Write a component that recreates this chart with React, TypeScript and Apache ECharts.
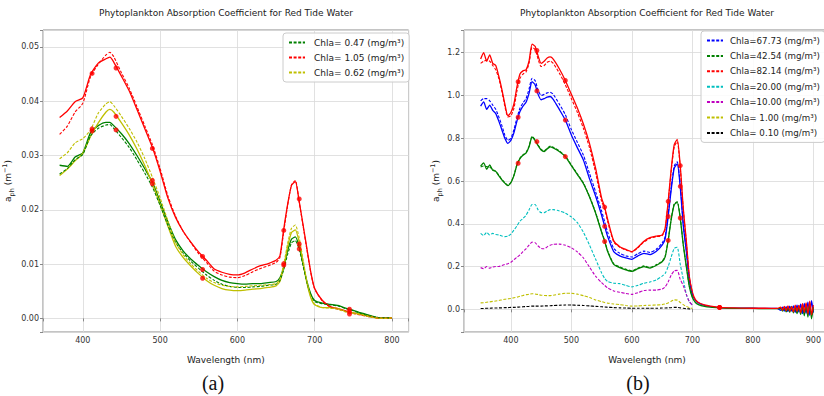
import React, { useEffect, useRef } from 'react';
import * as echarts from 'echarts';

const FONT = 'DejaVu Sans';

// ---------- (a) left panel ----------
const WL_A = [
  370, 380, 390, 400, 410, 420, 430, 435, 440, 450,
  460, 470, 480, 490, 500, 510, 520, 530, 540, 550,
  560, 570, 580, 590, 600, 610, 620, 630, 640, 650,
  655, 660, 665, 670, 675, 680, 685, 690, 695, 700,
  710, 720, 730, 740, 750, 760, 770, 780, 790, 800,
];
const RED105 = [
  0.0370, 0.0382, 0.0399, 0.0406, 0.0449, 0.0470, 0.0478, 0.0481, 0.0472, 0.0446,
  0.0419, 0.0385, 0.0350, 0.0315, 0.0271, 0.0222, 0.0186, 0.0160, 0.0140, 0.0122,
  0.0107, 0.0091, 0.0085, 0.0081, 0.0080, 0.0084, 0.0091, 0.0097, 0.0101, 0.0107,
  0.0115, 0.0165, 0.0210, 0.0245, 0.0252, 0.0215, 0.0172, 0.0128, 0.0085, 0.0055,
  0.0033, 0.0022, 0.0018, 0.0014, 0.0010, 0.0007, 0.0004, 0.0001, 0.0000, 0.0001,
];
const RED105_D = [
  0.0339, 0.0354, 0.0380, 0.0396, 0.0445, 0.0468, 0.0485, 0.0490, 0.0482, 0.0452,
  0.0424, 0.0390, 0.0355, 0.0320, 0.0276, 0.0226, 0.0188, 0.0160, 0.0139, 0.0119,
  0.0103, 0.0087, 0.0080, 0.0076, 0.0075, 0.0079, 0.0086, 0.0092, 0.0097, 0.0103,
  0.0112, 0.0160, 0.0208, 0.0246, 0.0254, 0.0214, 0.0170, 0.0126, 0.0084, 0.0054,
  0.0032, 0.0021, 0.0017, 0.0013, 0.0009, 0.0006, 0.0003, 0.0001, 0.0000, 0.0001,
];
const GREEN047 = [
  0.0282, 0.0280, 0.0297, 0.0305, 0.0342, 0.0355, 0.0361, 0.0361, 0.0355, 0.0340,
  0.0322, 0.0300, 0.0276, 0.0251, 0.0215, 0.0178, 0.0145, 0.0124, 0.0109, 0.0097,
  0.0086, 0.0077, 0.0070, 0.0066, 0.0064, 0.0063, 0.0064, 0.0064, 0.0066, 0.0068,
  0.0075, 0.0095, 0.0125, 0.0146, 0.0150, 0.0132, 0.0100, 0.0068, 0.0045, 0.0033,
  0.0028, 0.0026, 0.0024, 0.0019, 0.0015, 0.0010, 0.0006, 0.0002, 0.0001, 0.0001,
];
const GREEN047_D = [
  0.0266, 0.0276, 0.0292, 0.0302, 0.0336, 0.0350, 0.0356, 0.0357, 0.0350, 0.0333,
  0.0315, 0.0292, 0.0268, 0.0242, 0.0208, 0.0172, 0.0140, 0.0120, 0.0105, 0.0092,
  0.0080, 0.0070, 0.0063, 0.0059, 0.0057, 0.0057, 0.0058, 0.0059, 0.0061, 0.0063,
  0.0070, 0.0090, 0.0118, 0.0139, 0.0143, 0.0127, 0.0097, 0.0065, 0.0043, 0.0031,
  0.0027, 0.0025, 0.0023, 0.0018, 0.0014, 0.0009, 0.0005, 0.0002, 0.0001, 0.0001,
];
const YELLOW062 = [
  0.0263, 0.0275, 0.0290, 0.0304, 0.0335, 0.0360, 0.0380, 0.0385, 0.0380, 0.0360,
  0.0338, 0.0312, 0.0282, 0.0248, 0.0210, 0.0170, 0.0133, 0.0112, 0.0096, 0.0082,
  0.0070, 0.0061, 0.0055, 0.0052, 0.0051, 0.0052, 0.0054, 0.0055, 0.0057, 0.0060,
  0.0068, 0.0095, 0.0132, 0.0158, 0.0163, 0.0140, 0.0102, 0.0065, 0.0038, 0.0025,
  0.0020, 0.0020, 0.0018, 0.0013, 0.0010, 0.0008, 0.0004, 0.0001, 0.0000, 0.0001,
];
const YELLOW062_D = [
  0.0294, 0.0305, 0.0323, 0.0331, 0.0347, 0.0378, 0.0395, 0.0399, 0.0392, 0.0372,
  0.0350, 0.0325, 0.0295, 0.0260, 0.0222, 0.0180, 0.0140, 0.0117, 0.0100, 0.0086,
  0.0074, 0.0066, 0.0061, 0.0059, 0.0058, 0.0059, 0.0060, 0.0061, 0.0062, 0.0064,
  0.0072, 0.0100, 0.0138, 0.0166, 0.0172, 0.0148, 0.0108, 0.0068, 0.0040, 0.0026,
  0.0020, 0.0019, 0.0017, 0.0012, 0.0009, 0.0007, 0.0003, 0.0001, 0.0000, 0.0001,
];
const BANDS = [412, 443, 490, 555, 660, 680, 745];
const MK_RED105 = [0.0451, 0.0461, 0.0313, 0.0114, 0.0162, 0.0220, 0.0012];
const MK_GREEN047 = [0.0349, 0.0347, 0.0254, 0.0090, 0.0101, 0.0137, 0.0017];
const MK_YELLOW062 = [0.0345, 0.0372, 0.0248, 0.0074, 0.0098, 0.0128, 0.0008];

// ---------- (b) right panel ----------
const WL_B = [
  350, 355, 360, 365, 370, 375, 380, 385, 390, 395,
  400, 405, 410, 415, 420, 425, 430, 435, 440, 445,
  450, 455, 460, 465, 470, 480, 490, 500, 510, 520,
  530, 540, 550, 555, 560, 570, 580, 590, 600, 610,
  620, 630, 640, 650, 655, 660, 665, 670, 675, 680,
  685, 690, 695, 700,
];
const WL_B_TAIL = [
  705, 710, 720, 730, 745, 760, 780, 800, 820, 840,
  846, 849, 852, 855, 858, 861, 864, 867, 870, 873,
  876, 879, 882, 885, 888, 891, 894, 897, 900,
];
const RED82 = [
  1.17, 1.20, 1.16, 1.19, 1.15, 1.14, 1.09, 1.03, 0.96, 0.905,
  0.92, 0.96, 1.04, 1.10, 1.115, 1.12, 1.16, 1.24, 1.23, 1.185,
  1.15, 1.16, 1.175, 1.18, 1.17, 1.125, 1.07, 1.005, 0.94, 0.865,
  0.775, 0.66, 0.52, 0.478, 0.42, 0.32, 0.293, 0.28, 0.27, 0.29,
  0.318, 0.335, 0.342, 0.348, 0.38, 0.505, 0.655, 0.77, 0.795, 0.67,
  0.47, 0.32, 0.153, 0.08,
];
const RED82_TAIL = [
  0.045, 0.032, 0.021, 0.015, 0.009, 0.007, 0.006, 0.005, 0.005, 0.004,
  0.010, -0.004, 0.014, -0.006, 0.016, -0.008, 0.012, -0.012, 0.020, -0.010,
  0.018, -0.016, 0.026, -0.014, 0.030, -0.022, 0.038, -0.026, 0.020,
];
const RED82_D = [
  1.15, 1.16, 1.165, 1.16, 1.14, 1.12, 1.08, 1.02, 0.95, 0.90,
  0.905, 0.94, 1.02, 1.08, 1.10, 1.11, 1.15, 1.225, 1.215, 1.17,
  1.135, 1.14, 1.155, 1.16, 1.15, 1.105, 1.05, 0.985, 0.92, 0.845,
  0.755, 0.64, 0.505, 0.47, 0.41, 0.315, 0.29, 0.277, 0.268, 0.288,
  0.315, 0.332, 0.34, 0.345, 0.375, 0.50, 0.645, 0.76, 0.785, 0.66,
  0.465, 0.315, 0.15, 0.078,
];
const BLUE67 = [
  0.95, 0.97, 0.935, 0.955, 0.93, 0.915, 0.88, 0.84, 0.80, 0.776,
  0.79, 0.825, 0.88, 0.925, 0.95, 0.968, 1.01, 1.065, 1.05, 1.005,
  0.98, 0.985, 0.992, 0.995, 0.982, 0.935, 0.885, 0.815, 0.755, 0.697,
  0.61, 0.53, 0.44, 0.388, 0.34, 0.27, 0.25, 0.24, 0.234, 0.25,
  0.262, 0.256, 0.27, 0.30, 0.33, 0.434, 0.56, 0.66, 0.68, 0.57,
  0.39, 0.27, 0.137, 0.07,
];
const BLUE67_TAIL = [
  0.042, 0.030, 0.019, 0.013, 0.008, 0.006, 0.005, 0.005, 0.004, 0.004,
  -0.005, 0.010, -0.008, 0.012, -0.010, 0.015, -0.008, 0.016, -0.014, 0.020,
  -0.012, 0.024, -0.020, 0.028, -0.018, 0.034, -0.028, 0.040, -0.015,
];
const BLUE67_D = [
  0.975, 0.985, 0.985, 0.975, 0.955, 0.935, 0.90, 0.86, 0.815, 0.79,
  0.80, 0.84, 0.895, 0.94, 0.965, 0.985, 1.03, 1.08, 1.07, 1.025,
  1.0, 1.005, 1.012, 1.015, 1.005, 0.96, 0.91, 0.84, 0.78, 0.72,
  0.635, 0.55, 0.46, 0.41, 0.36, 0.285, 0.262, 0.25, 0.245, 0.26,
  0.272, 0.266, 0.28, 0.31, 0.34, 0.445, 0.57, 0.67, 0.69, 0.58,
  0.40, 0.28, 0.14, 0.07,
];
const GREEN42 = [
  0.67, 0.685, 0.655, 0.675, 0.65, 0.645, 0.625, 0.605, 0.59, 0.578,
  0.592, 0.625, 0.675, 0.705, 0.72, 0.73, 0.76, 0.805, 0.79, 0.765,
  0.745, 0.738, 0.75, 0.76, 0.755, 0.738, 0.714, 0.672, 0.63, 0.587,
  0.525, 0.45, 0.36, 0.318, 0.27, 0.21, 0.195, 0.185, 0.177, 0.19,
  0.20, 0.193, 0.205, 0.222, 0.245, 0.322, 0.42, 0.49, 0.50, 0.425,
  0.30, 0.20, 0.106, 0.055,
];
const GREEN42_TAIL = [
  0.032, 0.022, 0.014, 0.010, 0.007, 0.005, 0.004, 0.004, 0.003, 0.003,
  0.004, -0.008, 0.010, -0.012, 0.008, -0.014, 0.014, -0.016, 0.012, -0.020,
  0.016, -0.024, 0.020, -0.030, 0.024, -0.036, 0.028, -0.044, 0.010,
];
const GREEN42_D = [
  0.665, 0.67, 0.668, 0.664, 0.655, 0.645, 0.628, 0.608, 0.592, 0.58,
  0.594, 0.627, 0.677, 0.707, 0.722, 0.733, 0.762, 0.808, 0.793, 0.768,
  0.748, 0.741, 0.753, 0.763, 0.758, 0.741, 0.717, 0.675, 0.633, 0.59,
  0.528, 0.453, 0.363, 0.321, 0.273, 0.213, 0.198, 0.188, 0.18, 0.193,
  0.203, 0.196, 0.208, 0.225, 0.248, 0.325, 0.423, 0.493, 0.503, 0.428,
  0.303, 0.203, 0.109, 0.058,
];
const CYAN20 = [
  0.355, 0.345, 0.36, 0.348, 0.355, 0.35, 0.348, 0.343, 0.34, 0.342,
  0.352, 0.37, 0.39, 0.412, 0.425, 0.44, 0.465, 0.49, 0.49, 0.465,
  0.452, 0.452, 0.46, 0.466, 0.466, 0.46, 0.45, 0.432, 0.405, 0.36,
  0.30, 0.235, 0.17, 0.145, 0.13, 0.122, 0.12, 0.112, 0.105, 0.112,
  0.122, 0.128, 0.137, 0.155, 0.168, 0.2, 0.245, 0.285, 0.29, 0.21,
  0.14, 0.07, 0.035, 0.02,
];
const MAGENTA10 = [
  0.195, 0.19, 0.2, 0.192, 0.198, 0.2, 0.2, 0.205, 0.21, 0.213,
  0.22, 0.232, 0.243, 0.255, 0.27, 0.283, 0.30, 0.314, 0.312, 0.296,
  0.285, 0.283, 0.292, 0.30, 0.304, 0.305, 0.30, 0.288, 0.268, 0.24,
  0.197, 0.155, 0.125, 0.112, 0.10, 0.086, 0.08, 0.074, 0.07, 0.078,
  0.088, 0.09, 0.09, 0.095, 0.105, 0.128, 0.16, 0.18, 0.182, 0.14,
  0.11, 0.07, 0.036, 0.02,
];
const YELLOW1 = [
  0.03, 0.031, 0.033, 0.035, 0.037, 0.039, 0.041, 0.044, 0.047, 0.049,
  0.051, 0.054, 0.057, 0.061, 0.065, 0.068, 0.071, 0.073, 0.072, 0.069,
  0.066, 0.065, 0.064, 0.064, 0.066, 0.071, 0.075, 0.075, 0.071, 0.064,
  0.055, 0.044, 0.036, 0.032, 0.029, 0.025, 0.022, 0.018, 0.015, 0.016,
  0.018, 0.019, 0.02, 0.022, 0.025, 0.03, 0.038, 0.044, 0.043, 0.032,
  0.022, 0.014, 0.008, 0.005,
];
const BLACK01 = [
  0.004, 0.004, 0.005, 0.005, 0.006, 0.006, 0.007, 0.007, 0.008, 0.008,
  0.009, 0.009, 0.010, 0.011, 0.012, 0.013, 0.014, 0.015, 0.015, 0.015,
  0.015, 0.016, 0.016, 0.017, 0.018, 0.019, 0.02, 0.02, 0.019, 0.018,
  0.016, 0.014, 0.012, 0.011, 0.01, 0.008, 0.007, 0.006, 0.005, 0.005,
  0.005, 0.005, 0.005, 0.006, 0.006, 0.007, 0.008, 0.009, 0.009, 0.007,
  0.005, 0.003, 0.002, 0.001,
];
const MK_RED82 = [1.064, 1.21, 1.07, 0.478, 0.505, 0.672, 0.009];
const MK_BLUE67 = [0.898, 1.021, 0.885, 0.388, 0.434, 0.575, 0.009];
const MK_GREEN42 = [0.683, 0.784, 0.714, 0.317, 0.322, 0.427, 0.009];

const TITLE = 'Phytoplankton Absorption Coefficient for Red Tide Water';
const LEG_A = ['Chla= 0.47 (mg/m³)', 'Chla= 1.05 (mg/m³)', 'Chla= 0.62 (mg/m³)'];
const LEG_B = [
  'Chla=67.73 (mg/m³)', 'Chla=42.54 (mg/m³)', 'Chla=82.14 (mg/m³)',
  'Chla=20.00 (mg/m³)', 'Chla=10.00 (mg/m³)', 'Chla= 1.00 (mg/m³)', 'Chla= 0.10 (mg/m³)',
];

const C = { g: '#008000', r: '#ff0000', y: '#bfbf00', b: '#0000ff', c: '#00bfbf', m: '#bf00bf', k: '#000000' };

function lineSeries(name: string, gi: number, xs: number[], ys: number[], color: string, dashed: boolean) {
  return {
    type: 'line', name, xAxisIndex: gi, yAxisIndex: gi,
    data: ys.map((v, i) => [xs[i], v]),
    symbol: 'none', smooth: 0.2, silent: true,
    lineStyle: { color, width: dashed ? 1.1 : 1.3, type: dashed ? [3, 1.6] : 'solid' },
    itemStyle: { color },
    z: dashed ? 3 : 2,
  };
}

function markers(name: string, gi: number, lists: number[][]) {
  const data: number[][] = [];
  lists.forEach((l) => l.forEach((v, i) => data.push([BANDS[i], v])));
  return {
    type: 'scatter', name, xAxisIndex: gi, yAxisIndex: gi, data,
    symbol: 'circle', symbolSize: 5, silent: true,
    itemStyle: { color: '#ff0000' }, z: 5,
  };
}

const nameRich = {
  a: { fontSize: 9, color: '#222', fontFamily: FONT, lineHeight: 14 },
  s: { fontSize: 6.5, color: '#222', fontFamily: FONT, verticalAlign: 'bottom', lineHeight: 9 },
  p: { fontSize: 6.5, color: '#222', fontFamily: FONT, verticalAlign: 'top', lineHeight: 9 },
};
const YNAME = '{a|a}{s|ph}{a| (m}{p|−1}{a|)}';

function xAxisCfg(gi: number, min: number, max: number) {
  return {
    type: 'value', gridIndex: gi, min, max, splitNumber: 5, minInterval: 100, maxInterval: 100,
    axisLine: { show: false },
    axisTick: { show: true, length: 3, lineStyle: { color: '#888' } },
    axisLabel: {
      fontSize: 8, color: '#333', fontFamily: FONT, margin: 4,
      formatter: (v: number) => (Math.abs(v / 100 - Math.round(v / 100)) < 1e-6 ? String(Math.round(v)) : ''),
    },
    splitLine: { show: true, lineStyle: { color: '#d9d9d9', width: 0.8 } },
    name: 'Wavelength (nm)', nameLocation: 'middle', nameGap: 23,
    nameTextStyle: { fontSize: 9, color: '#222', fontFamily: FONT },
  };
}

function yAxisCfg(gi: number, min: number, max: number, step: number, dec: number, gap: number) {
  return {
    type: 'value', gridIndex: gi, min, max, splitNumber: 7, minInterval: step, maxInterval: step,
    axisLine: { show: false },
    axisTick: { show: true, length: 3, lineStyle: { color: '#888' } },
    axisLabel: {
      fontSize: 8, color: '#333', fontFamily: FONT, margin: 4,
      formatter: (v: number) => (Math.abs(v / step - Math.round(v / step)) < 1e-6 ? v.toFixed(dec) : ''),
    },
    splitLine: { show: true, lineStyle: { color: '#d9d9d9', width: 0.8 } },
    name: YNAME, nameLocation: 'middle', nameRotate: 90, nameGap: gap,
    nameTextStyle: { rich: nameRich },
  };
}

function legendCfg(data: string[], left: number, top: number, gap: number, fs: number, tp: number) {
  return {
    data, left, top, orient: 'vertical', selectedMode: false,
    itemWidth: 16, itemHeight: 10, itemGap: gap, padding: [5, 5, 5, 5],
    backgroundColor: 'rgba(255,255,255,0.85)', borderColor: '#cccccc', borderWidth: 1, borderRadius: 3,
    itemStyle: { color: 'transparent', borderColor: 'transparent', borderWidth: 0, opacity: 0 },
    textStyle: { fontSize: fs, color: '#222', fontFamily: FONT, padding: [0, 0, 0, tp] },
  };
}

const WL_B_FULL = WL_B.concat(WL_B_TAIL);

const option = {
  animation: false,
  backgroundColor: '#ffffff',
  grid: [
    { left: 43, top: 30, width: 365.6, height: 302, show: true, borderColor: '#888', borderWidth: 1, outerBoundsMode: 'none', containLabel: false },
    { left: 464, top: 30, width: 366, height: 302, show: true, borderColor: '#888', borderWidth: 1, outerBoundsMode: 'none', containLabel: false },
  ],
  xAxis: [xAxisCfg(0, 348.5, 821.5), xAxisCfg(1, 322.5, 927.5)],
  yAxis: [yAxisCfg(0, -0.0025, 0.0531, 0.01, 2, 28), yAxisCfg(1, -0.106, 1.306, 0.2, 1, 21)],
  legend: [legendCfg(LEG_A, 283, 33, 6, 9, 4), legendCfg(LEG_B, 701, 31, 6.4, 8.7, 2)],
  graphic: [
    { type: 'text', x: 226, y: 13, style: { text: TITLE, align: 'center', verticalAlign: 'middle', fontSize: 9, fontFamily: FONT, fill: '#222' } },
    { type: 'text', x: 647, y: 13, style: { text: TITLE, align: 'center', verticalAlign: 'middle', fontSize: 9, fontFamily: FONT, fill: '#222' } },
    { type: 'text', x: 213, y: 383, style: { text: '(a)', align: 'center', verticalAlign: 'middle', fontSize: 20, fontFamily: '"Liberation Serif", serif', fill: '#111' } },
    { type: 'text', x: 638, y: 383, style: { text: '(b)', align: 'center', verticalAlign: 'middle', fontSize: 20, fontFamily: '"Liberation Serif", serif', fill: '#111' } },
  ],
  series: [
    lineSeries('a-green', 0, WL_A, GREEN047, C.g, false),
    lineSeries('a-red', 0, WL_A, RED105, C.r, false),
    lineSeries('a-yellow', 0, WL_A, YELLOW062, C.y, false),
    lineSeries(LEG_A[0], 0, WL_A, GREEN047_D, C.g, true),
    lineSeries(LEG_A[1], 0, WL_A, RED105_D, C.r, true),
    lineSeries(LEG_A[2], 0, WL_A, YELLOW062_D, C.y, true),
    markers('a-bands', 0, [MK_RED105, MK_GREEN047, MK_YELLOW062]),

    lineSeries('b-blue', 1, WL_B_FULL, BLUE67.concat(BLUE67_TAIL), C.b, false),
    lineSeries('b-green', 1, WL_B_FULL, GREEN42.concat(GREEN42_TAIL), C.g, false),
    lineSeries('b-red', 1, WL_B_FULL, RED82.concat(RED82_TAIL), C.r, false),
    lineSeries(LEG_B[0], 1, WL_B, BLUE67_D, C.b, true),
    lineSeries(LEG_B[1], 1, WL_B, GREEN42_D, C.g, true),
    lineSeries(LEG_B[2], 1, WL_B, RED82_D, C.r, true),
    lineSeries(LEG_B[3], 1, WL_B, CYAN20, C.c, true),
    lineSeries(LEG_B[4], 1, WL_B, MAGENTA10, C.m, true),
    lineSeries(LEG_B[5], 1, WL_B, YELLOW1, C.y, true),
    lineSeries(LEG_B[6], 1, WL_B, BLACK01, C.k, true),
    markers('b-bands', 1, [MK_RED82, MK_BLUE67, MK_GREEN42]),
  ],
};

export default function App() {
  const ref = useRef<HTMLDivElement>(null);
  useEffect(() => {
    const chart = echarts.init(ref.current as HTMLDivElement, null, { renderer: 'svg' });
    chart.setOption(option as any);
    return () => chart.dispose();
  }, []);
  return (
    <div
      ref={ref}
      style={{ position: 'fixed', left: 0, top: 0, width: 824, height: 396, background: '#fff' }}
    />
  );
}
